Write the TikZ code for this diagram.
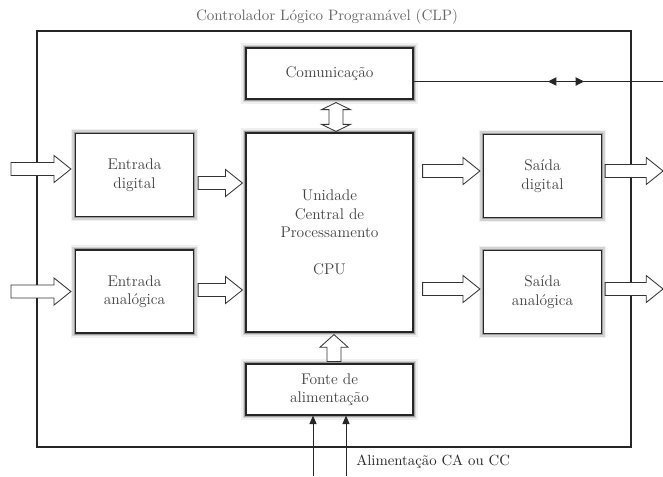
\documentclass[tikz,border=0pt]{standalone}
\usepackage{tikz}
\usetikzlibrary{
  positioning,
  calc,
  arrows.meta
}
\tikzstyle{bloco}=[draw=black!85, line width=0.8pt, fill=white, text=black!75,
  align=center, inner sep=2pt, font=\fontsize{11}{13.2}\selectfont,
  preaction={draw=black, line width=7pt, opacity=0.06},
  preaction={draw=black, line width=4.5pt, opacity=0.12},
  preaction={draw=black, line width=2.5pt, opacity=0.25}]
\tikzstyle{bloquinho}=[bloco, minimum width=2.95cm, minimum height=2.075cm]
\tikzstyle{largo}=[bloco, minimum width=4.175cm, minimum height=1.275cm]
\tikzstyle{seta}=[draw=black!80, line width=0.6pt, fill=white]
\tikzstyle{moldura}=[draw=black!85, line width=1.1pt]
\tikzstyle{fio}=[draw=black!85, line width=0.7pt]

\begin{document}
\begin{tikzpicture}[x=0.025cm, y=-0.025cm]
    % seta larga vazada: inicio, fim, meia haste, meia ponta, comprimento da ponta
    \def\setabloco#1#2#3#4#5{%
      \draw[seta] let \p1=#1, \p2=#2,
        \n1={atan2(\y2-\y1,\x2-\x1)}, \n2={veclen(\x2-\x1,\y2-\y1)} in
        [shift={(\p1)}, rotate=\n1]
        (0pt,-#3) -- ({\n2-#5},-#3) -- ({\n2-#5},-#4) -- (\n2,0pt)
        -- ({\n2-#5},#4) -- ({\n2-#5},#3) -- (0pt,#3) -- cycle;}
    % seta larga com duas pontas
    \def\setadupla#1#2#3#4#5{%
      \draw[seta] let \p1=#1, \p2=#2,
        \n1={atan2(\y2-\y1,\x2-\x1)}, \n2={veclen(\x2-\x1,\y2-\y1)} in
        [shift={(\p1)}, rotate=\n1]
        (0pt,0pt) -- (#5,-#4) -- (#5,-#3) -- ({\n2-#5},-#3) -- ({\n2-#5},-#4)
        -- (\n2,0pt) -- ({\n2-#5},#4) -- ({\n2-#5},#3) -- (#5,#3) -- (#5,#4) -- cycle;}

    \useasboundingbox (0,0) rectangle (663,476);

    % titulo e moldura do CLP
    \node[text=black!60, font=\fontsize{10.7}{12}\selectfont] (titulo) at (327,17)
      {Controlador Lógico Programável (CLP)};
    \draw[moldura] (37,31) rectangle (631,447);

    % blocos
    \node[largo] (com) at (329.5,73.5) {Comunicação};
    \node[bloco, minimum width=4.175cm, minimum height=4.975cm] (cpu) at (329.5,232.5)
      {Unidade\\Central de\\Processamento\\[13.2pt]CPU};
    \node[largo] (fonte) at (329.5,389.5) {Fonte de\\alimentação};
    \node[bloquinho] (ed) at (134.5,175) {Entrada\\digital};
    \node[bloquinho] (ea) at (134.5,291.5) {Entrada\\analógica};
    \node[bloquinho] (sd) at (542.5,176) {Saída\\digital};
    \node[bloquinho] (sa) at (542.5,292) {Saída\\analógica};

    % entradas
    \setabloco{($(ed.west)+(-64,-6)$)}{($(ed.west)+(-4,-6)$)}{4.6pt}{9.6pt}{12pt}
    \setabloco{($(ea.west)+(-64,0)$)}{($(ea.west)+(-4,0)$)}{4.6pt}{9.6pt}{12pt}
    \setabloco{($(ed.east)+(4,8)$)}{($(cpu.west |- ed.east)+(-3,8)$)}{4.6pt}{9.6pt}{12pt}
    \setabloco{($(ea.east)+(4,-1.5)$)}{($(cpu.west |- ea.east)+(-3,-1.5)$)}{4.6pt}{9.6pt}{12pt}

    % saidas
    \setabloco{($(cpu.east |- sd.west)+(9,-5)$)}{($(sd.west)+(-3,-5)$)}{4.6pt}{9.6pt}{12pt}
    \setabloco{($(cpu.east |- sa.west)+(9,-3)$)}{($(sa.west)+(-3,-3)$)}{4.6pt}{9.6pt}{12pt}
    \setabloco{($(sd.east)+(3,-5)$)}{($(sd.east)+(61,-5)$)}{4.6pt}{9.6pt}{12pt}
    \setabloco{($(sa.east)+(3,-3)$)}{($(sa.east)+(61,-3)$)}{4.6pt}{9.6pt}{12pt}

    % comunicacao <-> CPU e fonte -> CPU
    \setadupla{($(com.south)+(6.5,3)$)}{($(cpu.north)+(6.5,-1)$)}{5pt}{10.3pt}{5pt}
    \setabloco{($(fonte.north)+(4.5,-2)$)}{($(cpu.south)+(4.5,2)$)}{5pt}{10pt}{9pt}

    % linha de comunicacao externa
    \coordinate (rede) at (663,81.5);
    \draw[fio] (com.east |- rede) -- (rede);
    \draw[fio, {Triangle[length=6pt,width=6pt]}-{Triangle[length=6pt,width=6pt]}]
      (548,81.5) -- (584,81.5);

    % alimentacao
    \coordinate (ca1) at (313,476);
    \coordinate (ca2) at (346,476);
    \draw[fio, -{Triangle[length=6pt,width=5pt]}] (ca1) -- (ca1 |- fonte.south);
    \draw[fio, -{Triangle[length=6pt,width=5pt]}] (ca2) -- (ca2 |- fonte.south);
    \node[anchor=west, text=black!85, font=\fontsize{10.5}{12}\selectfont, inner sep=0pt]
      (rotulo) at (356,462) {Alimentação CA ou CC};
\end{tikzpicture}
\end{document}
